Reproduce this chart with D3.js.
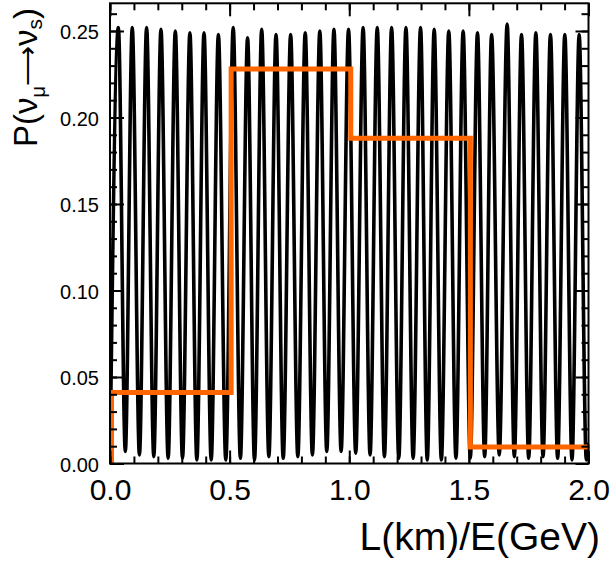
<!DOCTYPE html>
<html><head><meta charset="utf-8">
<script src="https://cdn.jsdelivr.net/npm/d3@7"></script>
<style>
body{margin:0;background:#fff}
text{font-family:"Liberation Sans",Arial,Helvetica,sans-serif;fill:#000}
</style>
</head><body>
<svg id="chart" width="611" height="563"></svg>
<script>
// ---- data ----
// oscillation maxima (L/E, probability)
const peakX = [0.035,0.093,0.153,0.213,0.273,0.334,0.393,0.453,0.515,0.575,0.634,0.694,0.755,0.816,0.877,0.936,0.997,1.058,1.117,1.177,1.237,1.298,1.355,1.416,1.476,1.536,1.595,1.660,1.720,1.780,1.841,1.901,1.961];
const peakP = [0.252,0.252,0.252,0.251,0.250,0.249,0.249,0.248,0.252,0.246,0.251,0.248,0.248,0.249,0.250,0.251,0.251,0.252,0.252,0.252,0.252,0.252,0.251,0.250,0.250,0.249,0.248,0.254,0.248,0.249,0.248,0.248,0.248];
// oscillation minima
const troughX = [0.000,0.064,0.123,0.183,0.243,0.303,0.363,0.423,0.484,0.545,0.604,0.664,0.724,0.785,0.846,0.906,0.966,1.027,1.087,1.147,1.207,1.267,1.326,1.385,1.446,1.506,1.566,1.627,1.690,1.750,1.810,1.871,1.931,1.991];
const troughP = [0.000,0.007,0.005,0.004,0.003,0.003,0.002,0.002,0.002,0.003,0.002,0.004,0.003,0.004,0.005,0.007,0.007,0.006,0.005,0.004,0.003,0.003,0.002,0.002,0.003,0.003,0.004,0.005,0.004,0.003,0.004,0.003,0.002,0.002];
const edgeX = [2.0];
const edgeP = [0.012];
// binned probability (orange histogram)
const binEdges = [0.0,0.5,1.0,1.5,2.0];
const binValues = [0.041,0.228,0.188,0.0095];
// ticks
const xMajor = [0.0,0.5,1.0,1.5,2.0];
const xMajorLabels = ["0.0","0.5","1.0","1.5","2.0"];
const yMajor = [0.00,0.05,0.10,0.15,0.20,0.25];
const yMajorLabels = ["0.00","0.05","0.10","0.15","0.20","0.25"];
const xMinor = d3.range(0,21).map(i=>i/10);
const yMinor = d3.range(0,27).map(i=>i/100);

// ---- layout ----
const L=110, R=588.5, T=3.3, B=463.5;
const x = d3.scaleLinear().domain([0,2]).range([L,R]);
const y = d3.scaleLinear().domain([0,0.266]).range([B,T]);
const svg = d3.select("#chart");

svg.append("defs").append("clipPath").attr("id","plotclip")
  .append("rect").attr("x",L).attr("y",T).attr("width",R-L).attr("height",B-T);

// oscillation curve
const pts = [];
troughX.forEach((v,i)=>pts.push([v,troughP[i]]));
peakX.forEach((v,i)=>pts.push([v,peakP[i]]));
edgeX.forEach((v,i)=>pts.push([v,edgeP[i]]));
pts.sort((a,b)=>a[0]-b[0]);
svg.append("path")
  .attr("clip-path","url(#plotclip)")
  .attr("d", d3.line().x(d=>x(d[0])).y(d=>y(d[1])).curve(d3.curveMonotoneX)(pts))
  .attr("fill","none").attr("stroke","#000").attr("stroke-width",3.6);

// histogram
const hpts = [[binEdges[0],0]];
binValues.forEach((v,i)=>hpts.push([binEdges[i],v]));
hpts.push([binEdges[binEdges.length-1], binValues[binValues.length-1]]);
svg.append("path")
  .attr("transform","translate(1.5,0)")
  .attr("d", d3.line().x(d=>x(d[0])).y(d=>y(d[1])).curve(d3.curveStepAfter)(hpts))
  .attr("fill","none").attr("stroke","#ff6600").attr("stroke-width",5)
  .attr("stroke-linejoin","miter");

// axes (ticks inward)
function ax(gen, tr, vals, size, labels, pad, fs){
  const g = svg.append("g").attr("transform",tr)
    .call(gen.tickValues(vals).tickSizeInner(size).tickSizeOuter(0).tickPadding(pad)
      .tickFormat((d,i)=>labels?labels[i]:""));
  g.select(".domain").remove();
  g.selectAll(".tick line").attr("stroke","#000").attr("stroke-width",2);
  g.selectAll("text").attr("font-family",null).style("font-size",fs+"px");
  return g;
}
ax(d3.axisBottom(x), `translate(0,${B})`, xMinor, -7, null, 0, 10);
ax(d3.axisTop(x), `translate(0,${T})`, xMinor, -7, null, 0, 10);
ax(d3.axisLeft(y), `translate(${L},0)`, yMinor, -7, null, 0, 10);
ax(d3.axisRight(y), `translate(${R},0)`, yMinor, -7, null, 0, 10);
ax(d3.axisBottom(x), `translate(0,${B})`, xMajor, -13, xMajorLabels, 15, 30);
ax(d3.axisTop(x), `translate(0,${T})`, xMajor, -13, null, 0, 10);
const gl = ax(d3.axisLeft(y), `translate(${L},0)`, yMajor, -14, yMajorLabels, 11, 20);
gl.selectAll("text").attr("dy","0.38em");
ax(d3.axisRight(y), `translate(${R},0)`, yMajor, -13, null, 0, 10);

// frame
svg.append("rect").attr("x",L).attr("y",T).attr("width",R-L).attr("height",B-T)
  .attr("fill","none").attr("stroke","#000").attr("stroke-width",2);

// axis titles
svg.append("text").attr("x",600).attr("y",550).attr("text-anchor","end")
  .style("font-size","39px").text("L(km)/E(GeV)");

const yt = svg.append("text").attr("transform","translate(37,147) rotate(-90)")
  .attr("text-anchor","start").style("font-size","33px");
yt.append("tspan").text("P(");
yt.append("tspan").text("ν");
yt.append("tspan").attr("dy",8).style("font-size","20px").text("μ");
yt.append("tspan").attr("dy",-8).style("font-size","28px").text("⟶");
yt.append("tspan").text("ν");
yt.append("tspan").attr("dy",5).style("font-size","21px").text("s");
yt.append("tspan").attr("dy",-5).text(")");
</script>
</body></html>
